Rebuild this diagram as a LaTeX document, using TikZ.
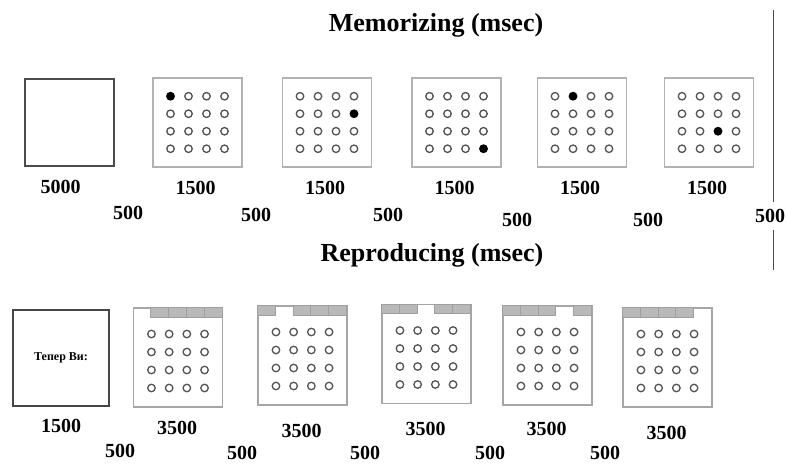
\documentclass[tikz,border=0pt]{standalone}
\usepackage{fontspec}
\setmainfont{Liberation Serif}
\usetikzlibrary{positioning, calc}

\begin{document}
\begin{tikzpicture}[
  x=1pt, y=-1pt,
  blank/.style={draw=gray!60!black, line width=1.2pt, inner sep=0pt},
  scrn/.style={draw=gray!60, line width=1.5pt, minimum width=89pt, minimum height=89pt, inner sep=0pt},
  tallscrn/.style={scrn, draw=gray!70, minimum height=99pt},
  dot/.style={circle, draw=gray!65!black, line width=1.3pt, fill=white, minimum size=7.5pt, inner sep=0pt},
  hit/.style={dot, draw=black, fill=black},
  seg/.style={fill=gray!55, draw=gray!75, line width=0.5pt},
  ttl/.style={font=\bfseries\fontsize{26}{30}\selectfont, anchor=base},
  dur/.style={font=\bfseries\fontsize{20}{24}\selectfont, inner sep=0pt}
]
  \useasboundingbox (0,0) rectangle (786,465);

  % memorizing row
  \node[ttl] (mtitle) at (436,32) {Memorizing (msec)};
  \node[blank, minimum width=89pt, minimum height=87pt] (m0) at (69.5,122.5) {};
  \node[dur, below=13pt of m0, xshift=-9pt] (mt0) {5000};
  \foreach \i/\xc/\tr/\tc in {1/197.5/1/1, 2/327/2/4, 3/456.5/4/4, 4/582/1/2, 5/709/3/3} {
    \node[scrn] (m\i) at (\xc,122.5) {};
    \node[dur, below=13pt of m\i, xshift=-2pt] (mt\i) {1500};
    \foreach \r in {1,...,4}
      \foreach \c in {1,...,4} {
        \def\dstyle{dot}
        \ifnum\numexpr\r*10+\c\relax=\numexpr\tr*10+\tc\relax \def\dstyle{hit}\fi
        \node[\dstyle] (m\i-\r-\c) at ($(m\i.center)+({(\c-2.5)*18},{(\r-2.5)*17.5})$) {};
      }
  }
  \foreach \g/\gx/\gy in {1/128/213, 2/256/215, 3/388/215, 4/517/220, 5/648/220}
    \node[dur] (mg\g) at (\gx,\gy) {500};
  \node[dur, inner ysep=7pt] (mg6) at (770,216) {500};

  \coordinate (vtop) at (773,10);
  \coordinate (vbot) at (773,270);
  \draw[gray!60!black, line width=1pt] (vtop) -- (mg6.north -| vtop);
  \draw[gray!60!black, line width=1pt] (mg6.south -| vtop) -- (vbot);

  % reproducing row
  \node[ttl] (rtitle) at (432,261) {Reproducing (msec)};
  \node[blank, draw=gray!55!black, minimum width=96pt, minimum height=96pt] (r0) at (61,358)
    {\bfseries\fontsize{12}{14}\selectfont Тепер Ви:};
  \node[dur, below=12pt of r0] (rt0) {1500};
  \foreach \i/\xc/\yc/\gap/\lo in {1/178/357.5/0/13, 2/302.5/355.5/1/18, 3/426.5/354/2/18, 4/547.5/355.5/3/16, 5/667.5/357.5/4/18} {
    \node[tallscrn] (r\i) at (\xc,\yc) {};
    \foreach \k in {0,...,4} {
      \ifnum\k=\gap\else
        \draw[seg] ($(r\i.north west)+({\k*17.8},0)$) rectangle ($(r\i.north west)+({(\k+1)*17.8},9.5)$);
      \fi
    }
    \node[dur, below=\lo pt of r\i, xshift=-1pt] (rt\i) {3500};
    \foreach \r in {1,...,4}
      \foreach \c in {1,...,4}
        \node[dot] (r\i-\r-\c) at ($(r\i.center)+({(\c-2.5)*17.7},{3.5+(\r-2.5)*18})$) {};
  }
  \foreach \g/\gx/\gy in {1/120/451, 2/242/453, 3/365/453, 4/490/453, 5/605/453}
    \node[dur] (rg\g) at (\gx,\gy) {500};
\end{tikzpicture}
\end{document}
